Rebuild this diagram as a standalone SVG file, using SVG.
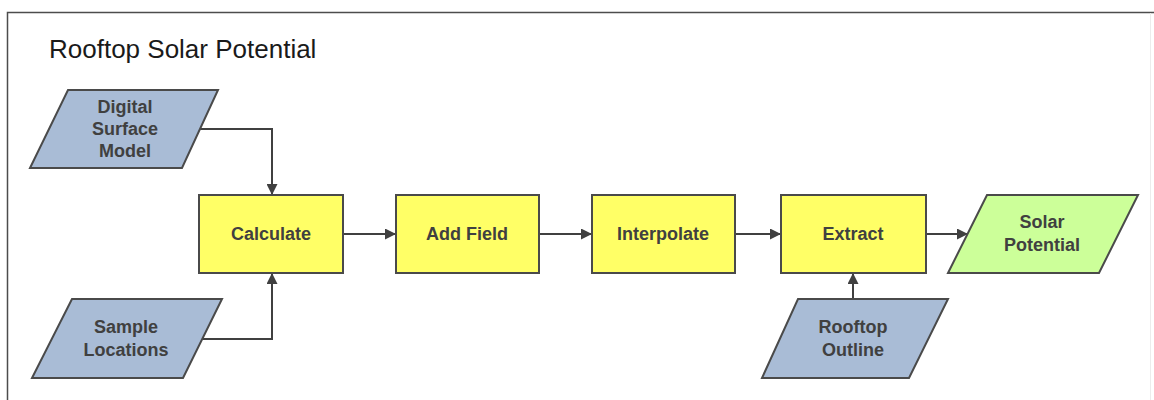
<svg xmlns="http://www.w3.org/2000/svg" width="1154" height="400" viewBox="0 0 1154 400">
  <style>
    .frame { fill: none; stroke: #4d4d4d; stroke-width: 1.5; }
    .title { font-family: "Liberation Sans", Arial, sans-serif; font-size: 26px; fill: #1a1a1a; }
    .data { fill: #a9bcd6; stroke: #4a4a4a; stroke-width: 2; }
    .output { fill: #ccff99; stroke: #4a4a4a; stroke-width: 2; }
    .tool { fill: #ffff66; stroke: #4a4a4a; stroke-width: 2; }
    .label { font-family: "Liberation Sans", Arial, sans-serif; font-size: 18px; font-weight: bold; fill: #404040; text-anchor: middle; }
    .conn { fill: none; stroke: #404040; stroke-width: 2; marker-end: url(#arrow); }
  </style>
  <defs>
    <marker id="arrow" viewBox="0 0 10 10" refX="10" refY="5" markerWidth="5.5" markerHeight="5.5" orient="auto" markerUnits="strokeWidth">
      <path d="M0,0 L10,5 L0,10 z" fill="#404040"/>
    </marker>
  </defs>

  <rect width="1154" height="400" fill="#ffffff"/>
  <!-- page frame -->
  <path class="frame" d="M7.5,400 V12.5 H1154"/>
  <line x1="1150.5" y1="13" x2="1150.5" y2="400" stroke="#ececec" stroke-width="1"/>

  <text class="title" x="49" y="58">Rooftop Solar Potential</text>

  <!-- connectors -->
  <g id="connectors">
    <path class="conn" d="M200,129 H272 V195"/>
    <path class="conn" d="M202,339 H272 V273"/>
    <path class="conn" d="M343,234 H396"/>
    <path class="conn" d="M539,234 H592"/>
    <path class="conn" d="M735,234 H781"/>
    <path class="conn" d="M926,234 H968"/>
    <path class="conn" d="M853,299 V273"/>
  </g>

  <g id="dsm">
    <polygon class="data" points="68,90 218,90 182,168 30,168"/>
    <text class="label" x="125" y="113">Digital</text>
    <text class="label" x="125" y="135">Surface</text>
    <text class="label" x="125" y="157">Model</text>
  </g>

  <g id="sample-locations">
    <polygon class="data" points="72,299 222,299 183,378 32,378"/>
    <text class="label" x="126" y="333">Sample</text>
    <text class="label" x="126" y="356">Locations</text>
  </g>

  <g id="calculate">
    <rect class="tool" x="199" y="195" width="144" height="78"/>
    <text class="label" x="271" y="240">Calculate</text>
  </g>

  <g id="add-field">
    <rect class="tool" x="396" y="195" width="143" height="78"/>
    <text class="label" x="467" y="240">Add Field</text>
  </g>

  <g id="interpolate">
    <rect class="tool" x="592" y="195" width="143" height="78"/>
    <text class="label" x="663" y="240">Interpolate</text>
  </g>

  <g id="extract">
    <rect class="tool" x="781" y="195" width="145" height="78"/>
    <text class="label" x="853" y="240">Extract</text>
  </g>

  <g id="solar-potential">
    <polygon class="output" points="987,195 1138,195 1099,273 948,273"/>
    <text class="label" x="1042" y="228">Solar</text>
    <text class="label" x="1042" y="251">Potential</text>
  </g>

  <g id="rooftop-outline">
    <polygon class="data" points="798,299 948,299 909,378 762,378"/>
    <text class="label" x="853" y="333">Rooftop</text>
    <text class="label" x="853" y="356">Outline</text>
  </g>
</svg>
